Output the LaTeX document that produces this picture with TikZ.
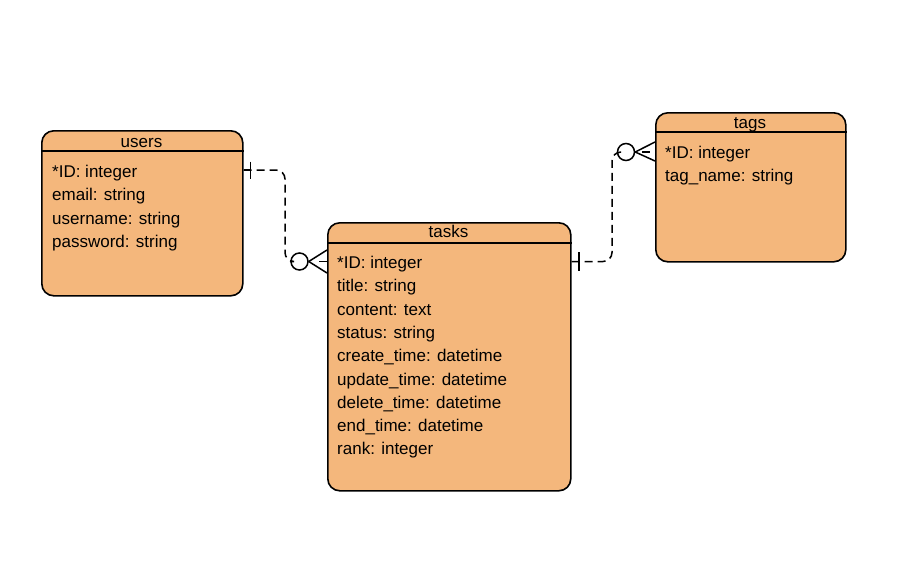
\documentclass[tikz,border=0pt]{standalone}
\usepackage{fontspec}
\setmainfont{Liberation Sans}
\begin{document}
\definecolor{entfill}{HTML}{F4B77C}
\begin{tikzpicture}[x=1pt,y=-1pt,
  entity/.style={draw=black, line width=1.6pt, fill=entfill, rounded corners=12pt,
    anchor=north west, inner sep=0pt},
  headrule/.style={draw=black, line width=1.3pt},
  etitle/.style={anchor=base, inner sep=0pt, font=\fontsize{17}{20}\selectfont},
  field/.style={anchor=base west, inner sep=0pt, font=\fontsize{17}{20}\selectfont},
  rel/.style={draw=black, line width=1.5pt, dash pattern=on 8pt off 5pt, rounded corners=9pt},
  notch/.style={draw=black, line width=1.5pt},
  ring/.style={circle, draw=black, line width=1.5pt, fill=white, minimum size=17pt, inner sep=0pt}]
\useasboundingbox (0,0) rectangle (913,581);

% entity boxes
\node[entity, minimum width=201pt, minimum height=165pt] (users) at (41,130) {};
\node[entity, minimum width=243pt, minimum height=268pt] (tasks) at (327,222) {};
\node[entity, minimum width=190pt, minimum height=149pt] (tags) at (655,112) {};

% header rules
\draw[headrule] ([yshift=-21pt]users.north west) -- ([yshift=-21pt]users.north east);
\draw[headrule] ([yshift=-21pt]tasks.north west) -- ([yshift=-21pt]tasks.north east);
\draw[headrule] ([yshift=-20pt]tags.north west) -- ([yshift=-20pt]tags.north east);

% titles
\node[etitle] (usersT) at (141.5,147.5) {users};
\node[etitle] (tasksT) at (448.5,237.5) {tasks};
\node[etitle] (tagsT) at (750,128.5) {tags};

% attributes
\foreach \t [count=\i from 0] in {*ID: integer, email: string, username: string, password: string}
  \node[field] (uf\i) at (52,177.5+23.3*\i) {\t};
\foreach \t [count=\i from 0] in {*ID: integer, title: string, content: text, status: string,
    create\_time: datetime, update\_time: datetime, delete\_time: datetime,
    end\_time: datetime, rank: integer}
  \node[field] (tf\i) at (337,268.5+23.3*\i) {\t};
\foreach \t [count=\i from 0] in {*ID: integer, tag\_name: string}
  \node[field] (gf\i) at (665,158.5+23.3*\i) {\t};

% users -> tasks (one to zero-or-many)
\node[ring] (c1) at (299.5,261.5) {};
\coordinate (u1) at (users.east |- 0,170);
\draw[rel] (u1) -- (285,170) -- (285,261.5) -- (c1.west);
\draw[notch] (u1) -- (250,170);
\draw[notch] (250.5,161.5) -- (250.5,179);
\draw[notch] (c1.east) -- (tasks.west |- 0,250);
\draw[notch] (c1.east) -- (tasks.west |- 0,273);
\draw[notch] (319,261.5) -- (tasks.west |- 0,261.5);

% tags -> tasks (one to zero-or-many)
\node[ring] (c2) at (626,152) {};
\coordinate (t1) at (tasks.east |- 0,261.5);
\draw[rel] (t1) -- (612,261.5) -- (612,152) -- (c2.west);
\draw[notch] (t1) -- (579,261.5);
\draw[notch] (579,252) -- (579,270.5);
\draw[notch] (c2.east) -- (tags.west |- 0,142);
\draw[notch] (c2.east) -- (tags.west |- 0,161);
\draw[notch] (642,152) -- (650,152);
\end{tikzpicture}
\end{document}
